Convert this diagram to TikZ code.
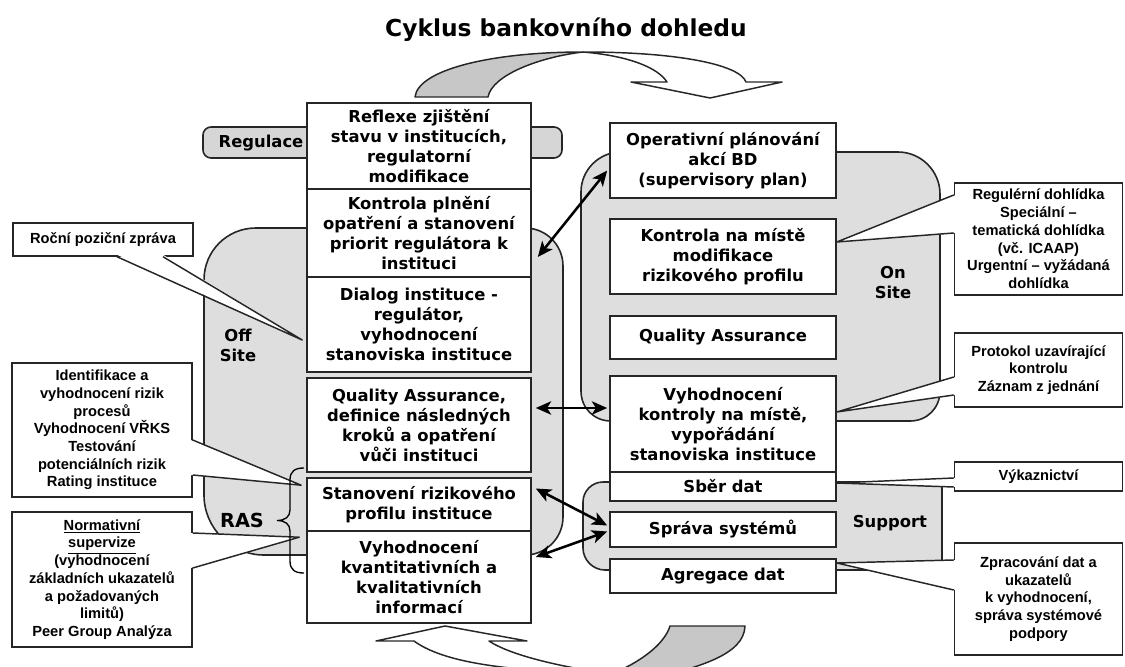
\documentclass[tikz,border=0pt]{standalone}
\usepackage{fontspec}
\setmainfont{DejaVu Sans}
\newfontfamily\notefont{Liberation Sans}
\usepackage{tikz}
\usetikzlibrary{calc,arrows.meta}

\begin{document}
\begin{tikzpicture}[
  x=0.75pt, y=-0.75pt,
  line width=1.2pt,
  region/.style={draw=black!85, fill=black!13},
  curvearrow/.style={draw=black!85, line width=1.1pt, line join=round},
  box/.style={draw=black!85, fill=white, align=center, inner sep=0pt,
    font=\bfseries\fontsize{12.3}{15}\selectfont},
  lbox/.style={box, minimum width=168pt},
  rbox/.style={box, minimum width=169.5pt},
  note/.style={draw=black!85, line width=1.1pt, fill=white, align=center, inner sep=0pt,
    font=\notefont\bfseries\fontsize{11}{13.3}\selectfont},
  pointer/.style={draw=black!85, line width=1.1pt, line join=round},
  areaname/.style={align=center, font=\bfseries\fontsize{12.3}{15}\selectfont},
  link/.style={line width=1.9pt,
    arrows={Stealth[length=11.5pt,width=10pt,inset=3pt]-Stealth[length=11.5pt,width=10pt,inset=3pt]}},
]
\useasboundingbox (0,0) rectangle (1125,667);
\clip (0,0) rectangle (1125,667);

\node[font=\bfseries\fontsize{17.5}{21}\selectfont] (title) at (566,30) {Cyklus bankovního dohledu};

% 灰色区域
\filldraw[region] (204,280) .. controls (204,251) and (227,228) .. (256,228)
  -- (525,228) .. controls (546,228) and (563,245) .. (563,266)
  -- (563,517) .. controls (563,538) and (546,555) .. (525,555)
  -- (264,555) .. controls (231,555) and (204,528) .. (204,495) -- cycle;
\filldraw[region, fill=black!16, rounded corners=6pt] (203,127) rectangle (562,158);
\filldraw[region] (581,192) .. controls (581,170) and (599,152) .. (621,152)
  -- (898,152) .. controls (921,152) and (940,171) .. (940,194)
  -- (940,391) .. controls (940,408) and (927,421) .. (910,421)
  -- (611,421) .. controls (594,421) and (581,408) .. (581,391) -- cycle;
\filldraw[region] (583,502) .. controls (583,491) and (592,482) .. (603,482)
  -- (936,482) .. controls (939,482) and (942,485) .. (942,488)
  -- (942,564) .. controls (942,567) and (939,570) .. (936,570)
  -- (605,570) .. controls (593,570) and (583,560) .. (583,548) -- cycle;

% 上下两个弯箭头
\filldraw[curvearrow, fill=black!22] (415,97) .. controls (418,70) and (490,52) .. (583,52)
  .. controls (540,57) and (492,75) .. (488,97) -- cycle;
\filldraw[curvearrow, fill=white] (583,52) .. controls (680,52) and (740,65) .. (746,82)
  -- (782,82) -- (710,98) -- (631,82) -- (667,82)
  .. controls (658,68) and (630,56) .. (583,52) -- cycle;
\filldraw[curvearrow, fill=black!22] (670,626) -- (745,626)
  .. controls (744,655) and (700,667) .. (640,682) -- (612,674)
  .. controls (640,662) and (664,645) .. (670,626) -- cycle;
\filldraw[curvearrow, fill=white] (612,674) .. controls (560,667) and (510,655) .. (489,641)
  -- (527,641) -- (445,626) -- (376,641) -- (414,641)
  .. controls (440,660) and (490,668) .. (560,672) -- (600,684) -- cycle;

\node[areaname] (regulace) at (261,143) {Regulace};

\node[lbox, minimum height=64.5pt] (refl) at (419,146) {Reflexe zjištění\\stavu v institucích,\\regulatorní\\modifikace};
\node[lbox, minimum height=66pt] (kontr) at (419,233) {Kontrola plnění\\opatření a stanovení\\priorit regulátora k\\instituci};
\node[lbox, minimum height=71.25pt] (dialog) at (419,324.5) {Dialog instituce -\\regulátor,\\vyhodnocení\\stanoviska instituce};
\node[lbox, minimum height=70.5pt] (qaoff) at (419,425) {Quality Assurance,\\definice následných\\kroků a opatření\\vůči instituci};
\node[lbox, minimum height=39.75pt] (stanov) at (419,504.5) {Stanovení rizikového\\profilu instituce};
\node[lbox, minimum height=69pt] (vyhkv) at (419,577) {Vyhodnocení\\kvantitativních a\\kvalitativních\\informací};

\node[rbox, minimum height=56.25pt] (oper) at (723,160.5) {Operativní plánování\\akcí BD\\(supervisory plan)};
\node[rbox, minimum height=56.25pt] (kmist) at (723,256.5) {Kontrola na místě\\modifikace\\rizikového profilu};
\node[rbox, minimum height=32.25pt] (qaon) at (723,337.5) {Quality Assurance};
\node[rbox, minimum height=72pt] (vyhkm) at (723,424) {Vyhodnocení\\kontroly na místě,\\vypořádání\\stanoviska instituce};
\node[rbox, minimum height=21.75pt] (sber) at (723,486.5) {Sběr dat};
\node[rbox, minimum height=26.25pt] (sprava) at (723,529.5) {Správa systémů};
\node[rbox, minimum height=25.5pt] (agreg) at (723,576) {Agregace dat};

% 说明框
\node[note, minimum width=135pt, minimum height=24.75pt] (rocni) at (103,239.5) {Roční poziční zpráva};
\node[note, minimum width=135pt, minimum height=100.5pt] (ident) at (102,430) {Identifikace a\\vyhodnocení rizik\\procesů\\Vyhodnocení VŘKS\\Testování\\potenciálních rizik\\Rating instituce};
\node[note, minimum width=135pt, minimum height=101.25pt] (norm) at (102,579.5) {\underline{Normativní}\\\underline{supervize}\\(vyhodnocení\\základních ukazatelů\\a požadovaných\\limitů)\\Peer Group Analýza};
\node[note, minimum width=126pt, minimum height=84pt] (regul) at (1038.5,239) {Regulérní dohlídka\\Speciální –\\tematická dohlídka\\(vč. ICAAP)\\Urgentní – vyžádaná\\dohlídka};
\node[note, minimum width=126pt, minimum height=55.5pt] (protok) at (1038.5,370) {Protokol uzavírající\\kontrolu\\Záznam z jednání};
\node[note, minimum width=126pt, minimum height=21.75pt] (vykaz) at (1038.5,476.5) {Výkaznictví};
\node[note, minimum width=126pt, minimum height=84pt] (zprac) at (1038.5,599) {Zpracování dat a\\ukazatelů\\k vyhodnocení,\\správa systémové\\podpory};

\coordinate (tipRocni) at ($(dialog.west)+(-4,15.5)$);
\coordinate (tipIdent) at ($(stanov.north west)+(-5,8)$);
\coordinate (tipNorm) at ($(vyhkv.north west)+(-7,7)$);
\coordinate (tipRegul) at ($(kmist.east)+(0,-14.5)$);
\coordinate (tipProtok) at ($(vyhkm.east)+(0,-12)$);
\coordinate (tipVykaz) at ($(sber.east)+(0,-3.5)$);
\coordinate (tipZprac) at ($(agreg.east)+(0,-13)$);

\fill[white] ($(rocni.south)+(14,-2)$) -- (tipRocni) -- ($(rocni.south)+(60,-2)$) -- cycle;
\draw[pointer] ($(rocni.south)+(14,0)$) -- (tipRocni) -- ($(rocni.south)+(60,0)$);
\fill[white] ($(ident.east)+(-2,10)$) -- (tipIdent) -- ($(ident.east)+(-2,45)$) -- cycle;
\draw[pointer] ($(ident.east)+(0,10)$) -- (tipIdent) -- ($(ident.east)+(0,45)$);
\fill[white] ($(norm.east)+(-2,-46.5)$) -- (tipNorm) -- ($(norm.east)+(-2,-11.5)$) -- cycle;
\draw[pointer] ($(norm.east)+(0,-46.5)$) -- (tipNorm) -- ($(norm.east)+(0,-11.5)$);
\fill[white] ($(regul.west)+(2,-44)$) -- (tipRegul) -- ($(regul.west)+(2,-6)$) -- cycle;
\draw[pointer] ($(regul.west)+(0,-44)$) -- (tipRegul) -- ($(regul.west)+(0,-6)$);
\fill[white] ($(protok.west)+(2,7)$) -- (tipProtok) -- ($(protok.west)+(2,25)$) -- cycle;
\draw[pointer] ($(protok.west)+(0,7)$) -- (tipProtok) -- ($(protok.west)+(0,25)$);
\fill[white] ($(vykaz.west)+(2,1.5)$) -- (tipVykaz) -- ($(vykaz.west)+(2,10.5)$) -- cycle;
\draw[pointer] ($(vykaz.west)+(0,1.5)$) -- (tipVykaz) -- ($(vykaz.west)+(0,10.5)$);
\fill[white] ($(zprac.west)+(2,-39)$) -- (tipZprac) -- ($(zprac.west)+(2,-9)$) -- cycle;
\draw[pointer] ($(zprac.west)+(0,-39)$) -- (tipZprac) -- ($(zprac.west)+(0,-9)$);

% 双向箭头
\draw[link] ($(kontr.east)+(6,24)$) -- ($(oper.west)+(-2,10)$);
\draw[link] ($(qaoff.east)+(4,-17)$) -- ($(vyhkm.west)+(-2,-16)$);
\draw[link] ($(stanov.east)+(4,-16)$) -- ($(sprava.west)+(-2,-4)$);
\draw[link] ($(vyhkv.east)+(4,-20)$) -- ($(sprava.west)+(-2,2)$);

\node[areaname] (offsite) at (238,345) {Off\\Site};
\node[areaname] (onsite) at (893,283) {On\\Site};
\node[areaname] (support) at (890,523) {Support};
\node[areaname, font=\bfseries\fontsize{14.5}{17}\selectfont] (ras) at (242,520) {RAS};
\draw[line width=1pt] (304,468) .. controls (295,468) and (290,471) .. (290,480) -- (290,510)
  .. controls (290,517) and (285,520.5) .. (277,520.5)
  .. controls (285,520.5) and (290,524) .. (290,531) -- (290,561)
  .. controls (290,570) and (295,573) .. (304,573);
\end{tikzpicture}
\end{document}
